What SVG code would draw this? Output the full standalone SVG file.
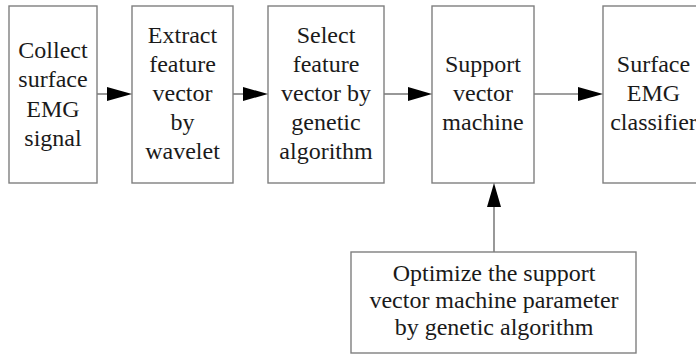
<svg xmlns="http://www.w3.org/2000/svg" width="696" height="355" viewBox="0 0 696 355">
  <defs>
    <style>
      .box { fill: #ffffff; stroke: #7f7f7f; stroke-width: 1.4; }
      .lbl { font-family: 'Liberation Serif', 'DejaVu Serif', serif; font-size: 24px; fill: #1a1a1a; text-anchor: middle; }
      .edge { stroke: #7f7f7f; stroke-width: 1.6; fill: none; }
      .head { fill: #000000; }
    </style>
  </defs>
  <rect width="696" height="355" fill="#ffffff"/>

  <g id="collect">
    <rect class="box" x="9" y="6" width="88" height="177"/>
    <text class="lbl" x="53" y="58">Collect</text>
    <text class="lbl" x="53" y="87">surface</text>
    <text class="lbl" x="53" y="117">EMG</text>
    <text class="lbl" x="53" y="146">signal</text>
  </g>

  <g id="extract">
    <rect class="box" x="132" y="6" width="101" height="177"/>
    <text class="lbl" x="182.5" y="43">Extract</text>
    <text class="lbl" x="182.5" y="72">feature</text>
    <text class="lbl" x="182.5" y="101">vector</text>
    <text class="lbl" x="182.5" y="130">by</text>
    <text class="lbl" x="182.5" y="159">wavelet</text>
  </g>

  <g id="select">
    <rect class="box" x="268" y="6" width="116" height="177"/>
    <text class="lbl" x="326" y="43">Select</text>
    <text class="lbl" x="326" y="72">feature</text>
    <text class="lbl" x="326" y="101">vector by</text>
    <text class="lbl" x="326" y="130">genetic</text>
    <text class="lbl" x="326" y="159">algorithm</text>
  </g>

  <g id="svm">
    <rect class="box" x="432" y="6" width="102" height="177"/>
    <text class="lbl" x="483" y="72">Support</text>
    <text class="lbl" x="483" y="101">vector</text>
    <text class="lbl" x="483" y="130">machine</text>
  </g>

  <g id="classifier">
    <rect class="box" x="603" y="6" width="101" height="177"/>
    <text class="lbl" x="653.5" y="72">Surface</text>
    <text class="lbl" x="653.5" y="101">EMG</text>
    <text class="lbl" x="653.5" y="130">classifier</text>
  </g>

  <g id="optimize">
    <rect class="box" x="351" y="252" width="285" height="101"/>
    <text class="lbl" x="494" y="281">Optimize the support</text>
    <text class="lbl" x="494" y="308">vector machine parameter</text>
    <text class="lbl" x="494" y="335">by genetic algorithm</text>
  </g>

  <g id="connectors">
    <line class="edge" x1="97" y1="94" x2="108" y2="94"/>
    <polygon class="head" points="107,87 132,94 107,101"/>
    <line class="edge" x1="233" y1="94" x2="244" y2="94"/>
    <polygon class="head" points="243,87 268,94 243,101"/>
    <line class="edge" x1="384" y1="94" x2="409" y2="94"/>
    <polygon class="head" points="408,87 432,94 408,101"/>
    <line class="edge" x1="534" y1="94" x2="579" y2="94"/>
    <polygon class="head" points="578,87 603,94 578,101"/>
    <line class="edge" x1="494" y1="252" x2="494" y2="206"/>
    <polygon class="head" points="487,207 494,183 501,207"/>
  </g>
</svg>
